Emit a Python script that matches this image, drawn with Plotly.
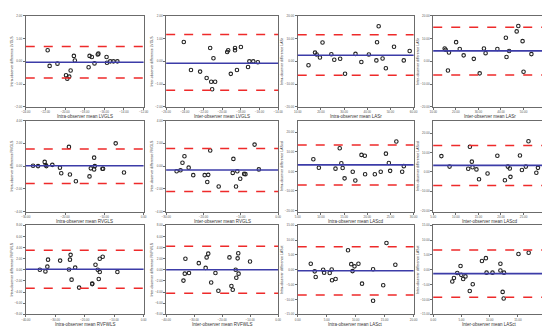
import plotly.graph_objects as go

# ---------------- data ----------------
measures = ["LVGLS", "LVGLS", "LASr", "LASr",
            "RVGLS", "RVGLS", "LAScd", "LAScd",
            "RVFWLS", "RVFWLS", "LASct", "LASct"]
observer = ["Intra", "Inter", "Intra", "Inter"] * 3

lvgls_intra_mean = [-21.77, -21.57, -20.77, -19.9, -19.77, -19.57, -19.43, -19.1, -19.0, -17.6,
                    -17.5, -17.27, -17.0, -16.67, -16.6, -15.77, -15.73, -15.4, -15.07, -14.67]
lvgls_intra_diff = [0.49, -0.20, -0.10, -0.61, -0.76, -0.67, -0.40, 0.24, 0.04, -0.26,
                    0.24, 0.19, -0.09, 0.30, 0.34, 0.19, -0.06, 0.0, 0.0, 0.0]
lvgls_inter_mean = [-24.11, -23.34, -22.36, -21.66, -21.28, -21.17, -21.07, -20.93, -20.75, -19.46,
                    -19.35, -19.07, -18.62, -18.62, -18.41, -17.99, -17.22, -17.08, -16.66, -16.17]
lvgls_inter_diff = [0.85, -0.38, -0.45, -0.73, 0.59, -0.90, -1.23, 0.14, -0.90, 0.41,
                    0.49, -0.55, 0.49, 0.59, -0.38, 0.63, -0.25, 0.0, 0.0, -0.04]
lasr_intra_mean = [14.65, 17.46, 18.17, 19.58, 20.70, 24.51, 25.77, 28.31, 30.42, 34.93,
                   37.46, 40.70, 43.94, 44.23, 44.93, 46.62, 48.03, 51.55, 55.77, 58.31]
lasr_intra_diff = [-1.71, 3.86, 3.0, 1.71, 8.29, 3.14, 0.71, 1.14, -5.43, 3.29,
                   -0.29, 3.0, 0.43, 8.43, 15.43, 1.29, -3.0, 6.43, 0.43, 4.57]
lasr_inter_mean = [15.07, 15.51, 16.96, 20.14, 21.74, 23.48, 16.52, 27.97, 30.58, 32.46,
                   33.19, 38.41, 42.17, 42.46, 43.62, 46.96, 47.68, 49.57, 50.0, 53.48]
lasr_inter_diff = [5.69, 5.14, 3.89, 8.47, 5.42, 2.64, -4.03, 1.11, -5.28, 5.69,
                   3.61, 5.42, 10.42, 1.94, 4.58, 13.19, 15.56, 8.89, -4.58, 3.19]
rvgls_intra_mean = [-28.14, -26.87, -25.18, -24.93, -24.76, -23.24, -21.30, -20.96, -19.01, -18.76,
                    -17.24, -13.77, -13.44, -12.59, -12.59, -12.42, -10.48, -10.31, -7.10, -4.99]
rvgls_intra_diff = [0.03, 0.0, 0.37, 0.09, 0.0, 0.11, -0.14, -0.63, 1.69, -0.74,
                    -1.34, -0.91, -0.20, -0.29, 0.74, 0.0, -0.23, -0.23, 2.0, -0.57]
rvgls_inter_mean = [-27.20, -26.15, -25.63, -25.10, -23.97, -22.74, -19.68, -18.98, -18.72, -18.19,
                    -15.92, -11.98, -12.16, -11.28, -10.93, -10.15, -9.10, -8.75, -6.30, -5.16]
rvgls_inter_diff = [-0.46, -0.37, 0.29, 0.86, -0.14, -0.80, -0.80, -1.40, -0.77, 1.37,
                    -1.80, 0.63, -0.60, -1.80, -0.46, -1.11, -0.69, -0.71, 1.89, -0.29]
lascd_intra_mean = [8.37, 9.56, 13.15, 14.06, 14.41, 14.69, 15.11, 16.87, 17.43, 18.76,
                    19.47, 19.54, 21.64, 22.91, 24.03, 24.66, 24.94, 26.28, 27.54, 27.89]
lascd_intra_diff = [6.24, 1.92, 1.44, 11.84, 4.16, 1.76, -3.52, -0.16, -4.64, 8.48,
                    8.0, -1.44, -1.44, -0.16, 9.12, 4.32, 0.32, 15.36, -0.16, 2.72]
lascd_inter_mean = [6.81, 8.62, 12.75, 13.12, 13.55, 13.70, 14.57, 15.14, 17.03, 19.20,
                    20.87, 21.52, 21.96, 22.10, 24.20, 24.64, 25.51, 26.09, 27.83, 28.19]
lascd_inter_diff = [8.16, 2.72, 1.6, 12.96, 5.28, 2.4, 1.28, -3.84, -0.8, 8.32,
                    -4.32, 2.72, 1.76, -2.56, 8.48, 0.96, 2.72, 15.84, -0.48, 2.08]
rvfwls_intra_mean = [-35.22, -33.33, -32.67, -32.44, -28.33, -25.33, -25.0, -24.78, -24.44, -23.22,
                     -21.89, -17.44, -17.44, -16.33, -15.56, -15.22, -14.89, -14.89, -13.89, -8.89]
rvfwls_intra_diff = [0.0, -0.29, 0.57, 1.83, 1.66, 0.06, 1.83, 2.69, -1.77, 0.40,
                     -3.20, -2.46, -2.57, 0.91, 0.0, -1.66, -0.40, 2.0, 2.34, -0.40]
rvfwls_inter_mean = [-33.82, -33.35, -33.12, -31.84, -28.34, -25.89, -25.54, -24.96, -23.91, -22.39,
                     -21.34, -17.38, -16.68, -16.21, -15.16, -14.93, -14.46, -14.23, -14.11, -10.03]
rvfwls_inter_diff = [-1.94, -0.69, 2.0, -0.57, 1.2, 0.34, 2.23, 2.91, -2.29, -0.57,
                     -3.77, 2.23, -2.91, -3.6, 0.0, -1.43, 2.06, 2.97, -0.69, 1.49]
lasct_intra_mean = [2.25, 2.93, 3.10, 4.39, 4.56, 5.52, 5.86, 5.92, 6.54, 8.68,
                    9.24, 9.46, 9.80, 10.48, 11.10, 13.01, 13.01, 14.76, 15.32, 16.85]
lasct_intra_diff = [2.02, -0.53, -2.45, 0.0, -0.96, -1.06, 0.11, -3.51, -3.09, 6.6,
                    1.91, -0.43, 1.17, 2.02, -4.68, 0.21, -10.43, -5.21, 9.04, 1.70]
lasct_inter_mean = [3.38, 3.67, 4.26, 4.84, 4.96, 5.31, 5.71, 6.47, 7.0, 8.63,
                    9.33, 9.45, 10.50, 11.90, 11.90, 12.30, 12.48, 12.54, 15.10, 16.91]
lasct_inter_diff = [-3.94, -2.77, -1.06, 1.28, -1.70, -3.09, -2.23, -7.13, -4.89, 2.98,
                    3.94, -0.96, -0.96, 2.02, -0.21, -7.45, -9.68, -0.96, 5.32, 5.74]

means = [lvgls_intra_mean, lvgls_inter_mean, lasr_intra_mean, lasr_inter_mean,
         rvgls_intra_mean, rvgls_inter_mean, lascd_intra_mean, lascd_inter_mean,
         rvfwls_intra_mean, rvfwls_inter_mean, lasct_intra_mean, lasct_inter_mean]
diffs = [lvgls_intra_diff, lvgls_inter_diff, lasr_intra_diff, lasr_inter_diff,
         rvgls_intra_diff, rvgls_inter_diff, lascd_intra_diff, lascd_inter_diff,
         rvfwls_intra_diff, rvfwls_inter_diff, lasct_intra_diff, lasct_inter_diff]

bias = [-0.04, -0.08, 2.7, 4.6, 0.03, -0.34, 3.36, 3.36, 0.11, 0.0, -0.32, -1.28]
upper_loa = [0.66, 1.18, 11.7, 15.0, 1.51, 1.54, 13.6, 13.6, 3.54, 4.23, 7.77, 6.7]
lower_loa = [-0.73, -1.27, -6.1, -6.0, -1.54, -2.23, -6.9, -7.0, -3.31, -4.23, -8.51, -9.26]

# ---------------- layout config ----------------
W, H = 550, 329
col_px = [(13, 133), (156, 270), (290, 408), (428, 543)]
row_px = [(6, 98), (112, 204), (218, 308)]
x_ranges = [(-24, -12), (-26, -14), (10, 60), (10, 60),
            (-30, 0), (-30, 0), (5, 30), (5, 30),
            (-40, 0), (-40, 0), (0, 20), (0, 20)]
x_dticks = [2, 2, 10, 10, 10, 10, 5, 5, 10, 10, 5, 5]
y_ranges = [(-2, 2), (-2, 2), (-20, 20), (-20, 20),
            (-4, 4), (-4, 4), (-20.5, 26), (-20.5, 26.5),
            (-8, 8), (-8, 8), (-15, 15), (-15, 15)]
y_dticks = [1, 1, 10, 10, 2, 2, 10, 10, 2, 2, 5, 5]

fig = go.Figure()
axis_common = dict(showline=True, mirror=True, linecolor="#6b6b6b", linewidth=1,
                   showgrid=False, zeroline=False, ticks="outside", ticklen=2,
                   tickcolor="#6b6b6b", tickwidth=0.8, tickformat=".2f",
                   tickfont=dict(size=3, color="#555", family="Arial"))

annotations = []
for i in range(12):
    r, c = divmod(i, 4)
    n = i + 1
    xa = "x" if n == 1 else f"x{n}"
    ya = "y" if n == 1 else f"y{n}"
    x0, x1 = col_px[c]
    y0, y1 = row_px[r]
    fig.add_trace(go.Scatter(
        x=means[i], y=diffs[i], mode="markers", xaxis=xa, yaxis=ya,
        marker=dict(symbol="circle-open", size=3.5, color="#222", line=dict(width=1.1)),
        showlegend=False, hoverinfo="skip"))
    for val, colr, dash, wd in [(upper_loa[i], "#ee2a2a", "dash", 1.5),
                                (lower_loa[i], "#ee2a2a", "dash", 1.5),
                                (bias[i], "#3c3ca8", "solid", 1.6)]:
        fig.add_shape(type="line", xref=f"{xa} domain", yref=ya, x0=0, x1=1,
                      y0=val, y1=val, line=dict(color=colr, dash=dash, width=wd))
    xaxis = dict(axis_common, domain=[x0 / W, x1 / W], anchor=ya,
                 range=list(x_ranges[i]), dtick=x_dticks[i], tick0=0)
    yaxis = dict(axis_common, domain=[1 - y1 / H, 1 - y0 / H], anchor=xa,
                 range=list(y_ranges[i]), dtick=y_dticks[i], tick0=0,
                 title=dict(text=f"{observer[i]}-observer difference {measures[i]}",
                            font=dict(size=3.5, color="#333", family="Arial"), standoff=1))
    fig.update_layout({("xaxis" if n == 1 else f"xaxis{n}"): xaxis,
                       ("yaxis" if n == 1 else f"yaxis{n}"): yaxis})
    annotations.append(dict(
        text=f"{observer[i]}-observer mean {measures[i]}", showarrow=False,
        xref="paper", yref="paper", x=(x0 + x1) / 2 / W, y=1 - (y1 + 10) / H,
        xanchor="center", yanchor="middle",
        font=dict(size=4.5, color="#333", family="Arial")))

fig.update_layout(width=W, height=H, margin=dict(l=0, r=0, t=0, b=0),
                  paper_bgcolor="white", plot_bgcolor="white", annotations=annotations)
fig.write_html("out.html")
